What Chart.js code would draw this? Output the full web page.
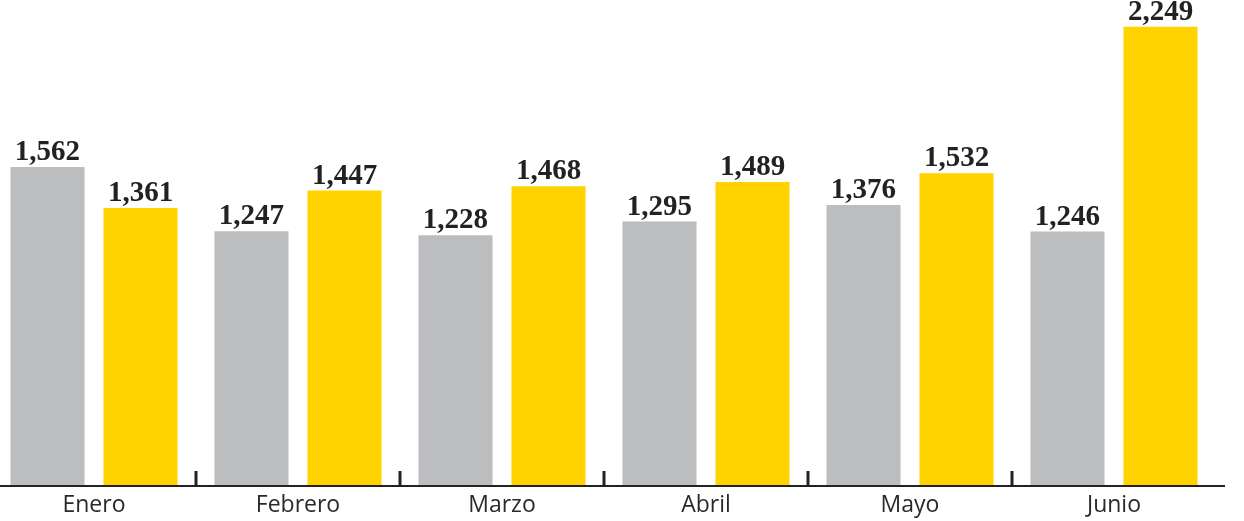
<!DOCTYPE html>
<html>
<head>
<meta charset="utf-8">
<script src="https://cdn.jsdelivr.net/npm/chart.js@4/dist/chart.umd.min.js"></script>
<style>
  html, body { margin: 0; padding: 0; background: #fff; overflow: hidden; }
  #wrap { position: absolute; left: -8px; top: 0; width: 1252px; height: 521px; }
</style>
</head>
<body>
<div id="wrap"><canvas id="chart"></canvas></div>
<script>
/* ===== Monthly comparison bars ===== */

const months = ['Enero', 'Febrero', 'Marzo', 'Abril', 'Mayo', 'Junio'];
const seriesGray = [1562, 1247, 1228, 1295, 1376, 1246];
const seriesYellow = [1361, 1447, 1468, 1489, 1532, 2249];

const GRAY = '#bcbdbf';
const YELLOW = '#ffd200';
const INK = '#222222';

// value labels above bars + baseline with separator ticks
const decorPlugin = {
  id: 'decor',
  afterDatasetsDraw(chart) {
    const ctx = chart.ctx;
    ctx.save();
    ctx.fillStyle = INK;
    ctx.font = 'bold 29px "Liberation Serif", serif';
    ctx.textAlign = 'center';
    ctx.textBaseline = 'alphabetic';
    chart.data.datasets.forEach((ds, di) => {
      chart.getDatasetMeta(di).data.forEach((bar, i) => {
        ctx.fillText(ds.data[i].toLocaleString('en-US'), bar.x, bar.y - 7);
      });
    });

    const x = chart.scales.x;
    const base = chart.chartArea.bottom;
    ctx.strokeStyle = INK;
    ctx.lineWidth = 2;
    ctx.beginPath();
    ctx.moveTo(8, base);
    ctx.lineTo(1233, base);
    ctx.stroke();

    ctx.lineWidth = 3;
    for (let i = 0; i < months.length - 1; i++) {
      const px = (x.getPixelForValue(i) + x.getPixelForValue(i + 1)) / 2;
      ctx.beginPath();
      ctx.moveTo(px, base - 15);
      ctx.lineTo(px, base);
      ctx.stroke();
    }
    ctx.restore();
  }
};

new Chart(document.getElementById('chart').getContext('2d'), {
  type: 'bar',
  data: {
    labels: months,
    datasets: [
      { label: 'A', data: seriesGray, backgroundColor: GRAY },
      { label: 'B', data: seriesYellow, backgroundColor: YELLOW }
    ]
  },
  options: {
    responsive: true,
    maintainAspectRatio: false,
    animation: false,
    categoryPercentage: 0.912,
    barPercentage: 0.796,
    layout: { padding: { left: 0, right: 28, top: 0, bottom: 0 } },
    plugins: { legend: { display: false }, tooltip: { enabled: false } },
    scales: {
      x: {
        grid: { display: false, drawTicks: false },
        border: { display: false },
        ticks: {
          color: '#2a2a2a',
          font: { family: '"Open Sans", sans-serif', size: 23 },
          padding: 6
        },
        afterFit: s => { s.height = 35; }
      },
      y: {
        display: false,
        min: 0,
        max: 2380
      }
    }
  },
  plugins: [decorPlugin]
});
</script>
</body>
</html>
